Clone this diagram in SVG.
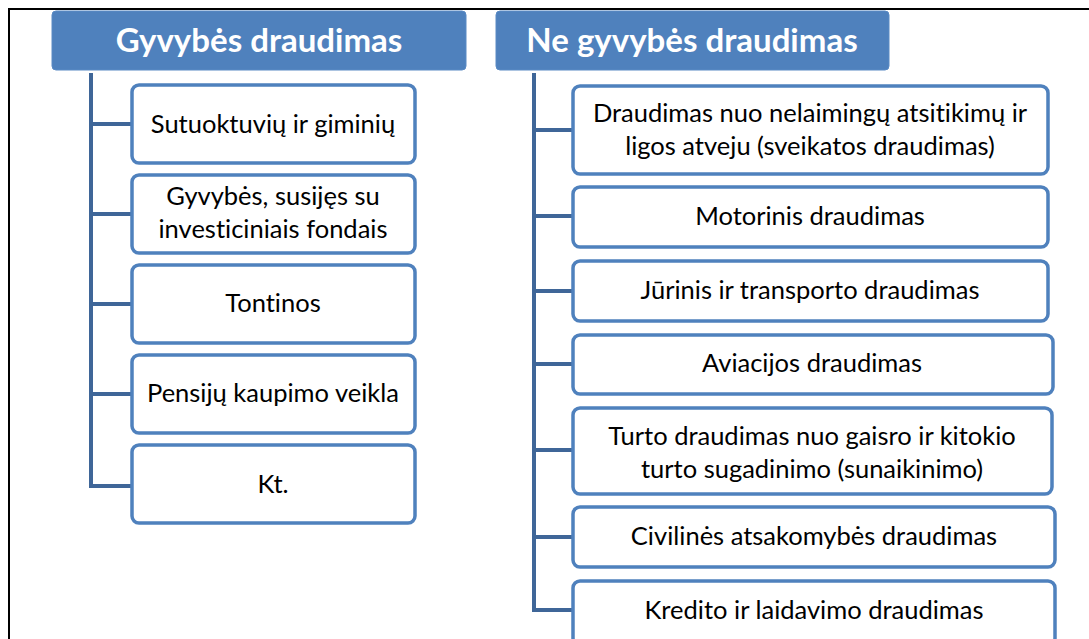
<svg xmlns="http://www.w3.org/2000/svg" width="1089" height="639" viewBox="0 0 1089 639">
<style>
.hdr{fill:#4f81bd;stroke:#5a8ac4;stroke-width:1}
.ht{font-family:Lato,"Noto Sans",sans-serif;font-weight:bold;font-size:33px;fill:#fff;text-anchor:middle;font-variant-ligatures:none}
.box{fill:#fff;stroke:#4f81bd;stroke-width:3.5}
.bt{font-family:Lato,"Noto Sans",sans-serif;font-size:25.5px;fill:#000;text-anchor:middle;font-variant-ligatures:none}
.con{fill:none;stroke:#3f6698;stroke-width:4}
</style>
<rect x="0" y="0" width="1089" height="639" fill="#fff"/>
<path d="M9,640 V9 H1090" fill="none" stroke="#000" stroke-width="2"/>
<g id="connectors">
<path class="con" d="M91,73 V486 H131 M91,124 H131 M91,214 H131 M91,304 H131 M91,394 H131"/>
<path class="con" d="M534,73 V610 H573 M534,130 H573 M534,216 H573 M534,291 H573 M534,364 H573 M534,450 H573 M534,537 H573"/>
</g>
<g id="h1"><rect class="hdr" x="52" y="11" width="414" height="59" rx="4"/><text class="ht" x="259" y="52">Gyvybės draudimas</text></g>
<g id="h2"><rect class="hdr" x="496" y="11" width="393" height="59" rx="4"/><text class="ht" x="692" y="52">Ne gyvybės draudimas</text></g>
<g id="l1"><rect class="box" x="132" y="85" width="283" height="78" rx="7"/><text class="bt" x="273" y="133">Sutuoktuvių ir giminių</text></g>
<g id="l2"><rect class="box" x="132" y="175" width="283" height="78" rx="7"/><text class="bt" x="273" y="205">Gyvybės, susijęs su</text><text class="bt" x="273" y="238">investiciniais fondais</text></g>
<g id="l3"><rect class="box" x="132" y="265" width="283" height="78" rx="7"/><text class="bt" x="273" y="312">Tontinos</text></g>
<g id="l4"><rect class="box" x="132" y="355" width="283" height="78" rx="7"/><text class="bt" x="273" y="402">Pensijų kaupimo veikla</text></g>
<g id="l5"><rect class="box" x="132" y="445" width="283" height="78" rx="7"/><text class="bt" x="273" y="493">Kt.</text></g>
<g id="r1"><rect class="box" x="573" y="86" width="475" height="88" rx="7"/><text class="bt" x="810" y="122">Draudimas nuo nelaimingų atsitikimų ir</text><text class="bt" x="810" y="155">ligos atveju (sveikatos draudimas)</text></g>
<g id="r2"><rect class="box" x="573" y="187" width="475" height="60" rx="7"/><text class="bt" x="810" y="225">Motorinis draudimas</text></g>
<g id="r3"><rect class="box" x="573" y="261" width="475" height="60" rx="7"/><text class="bt" x="810" y="299">Jūrinis ir transporto draudimas</text></g>
<g id="r4"><rect class="box" x="573" y="335" width="480" height="59" rx="7"/><text class="bt" x="812" y="372">Aviacijos draudimas</text></g>
<g id="r5"><rect class="box" x="573" y="408" width="479" height="86" rx="7"/><text class="bt" x="812" y="445">Turto draudimas nuo gaisro ir kitokio</text><text class="bt" x="812" y="478">turto sugadinimo (sunaikinimo)</text></g>
<g id="r6"><rect class="box" x="573" y="507" width="482" height="60" rx="7"/><text class="bt" x="814" y="545">Civilinės atsakomybės draudimas</text></g>
<g id="r7"><rect class="box" x="573" y="581" width="482" height="64" rx="7"/><text class="bt" x="814" y="619">Kredito ir laidavimo draudimas</text></g>
</svg>
